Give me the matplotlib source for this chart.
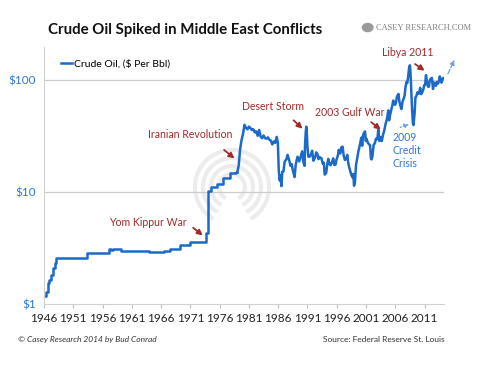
import numpy as np
import matplotlib.pyplot as plt
from matplotlib.patches import Arc
from matplotlib.lines import Line2D

# early, administered prices (stepped)
early_t = [1946.0, 1946.4, 1946.6, 1946.9, 1947.2, 1947.6, 1947.8, 1948.0, 1953.4,
           1957.1, 1957.5, 1957.8, 1959.1, 1964.0, 1966.5, 1967.5, 1969.2, 1970.9,
           1973.7, 1974.0, 1974.6, 1975.6, 1976.6, 1977.7, 1978.8, 1979.0]
early_p = [1.17, 1.27, 1.52, 1.62, 1.82, 2.07, 2.32, 2.57, 2.82,
           3.07, 3.00, 3.07, 2.97, 2.92, 2.97, 3.07, 3.35, 3.56,
           4.31, 10.11, 11.1, 11.8, 13.2, 14.7, 14.85, 14.85]

# market prices 1979 onward
late_t = [1979.0, 1979.25, 1979.5, 1979.75, 1980.0, 1980.25, 1980.5, 1980.75, 1981.0, 1981.25,
          1981.5, 1981.75, 1982.0, 1982.25, 1982.5, 1982.75, 1983.0, 1983.25, 1983.5, 1983.75,
          1984.0, 1984.25, 1984.5, 1984.75, 1985.0, 1985.25, 1985.5, 1985.75, 1985.95, 1986.1,
          1986.25, 1986.4, 1986.55, 1986.7, 1986.9, 1987.1, 1987.4, 1987.6, 1987.9, 1988.1,
          1988.3, 1988.5, 1988.8, 1989.0, 1989.3, 1989.6, 1989.9, 1990.1, 1990.3, 1990.5,
          1990.6, 1990.7, 1990.8, 1990.9, 1991.0, 1991.15, 1991.4, 1991.6, 1991.8, 1992.0,
          1992.3, 1992.5, 1992.7, 1992.9, 1993.1, 1993.4, 1993.6, 1993.8, 1993.95, 1994.2,
          1994.4, 1994.55, 1994.75, 1994.95, 1995.2, 1995.4, 1995.6, 1995.8, 1995.95, 1996.2,
          1996.35, 1996.6, 1996.8, 1997.0, 1997.2, 1997.4, 1997.6, 1997.8, 1997.95, 1998.1,
          1998.3, 1998.5, 1998.7, 1998.85, 1998.95, 1999.1, 1999.3, 1999.5, 1999.7, 1999.95,
          2000.2, 2000.35, 2000.5, 2000.7, 2000.85, 2000.95, 2001.1, 2001.3, 2001.5, 2001.7,
          2001.85, 2001.95, 2002.1, 2002.3, 2002.5, 2002.7, 2002.95, 2003.1, 2003.3, 2003.5,
          2003.7, 2003.9, 2004.1, 2004.35, 2004.6, 2004.8, 2004.95, 2005.1, 2005.3, 2005.5,
          2005.65, 2005.8, 2005.95, 2006.1, 2006.3, 2006.55, 2006.7, 2006.85, 2007.05, 2007.25,
          2007.45, 2007.6, 2007.75, 2007.9, 2008.05, 2008.2, 2008.35, 2008.5, 2008.6, 2008.75,
          2008.85, 2009.0, 2009.1, 2009.3, 2009.45, 2009.6, 2009.8, 2009.95, 2010.1, 2010.25,
          2010.4, 2010.6, 2010.8, 2010.95, 2011.1, 2011.25, 2011.4, 2011.6, 2011.75, 2011.9,
          2012.1, 2012.25, 2012.45, 2012.6, 2012.8, 2012.95, 2013.1, 2013.3, 2013.45, 2013.6,
          2013.75, 2013.9, 2014.0, 2014.2]
late_p = [14.85, 17, 24, 29, 33, 39.5, 37, 36, 38, 37,
          35.5, 36, 33.8, 34.5, 31.5, 35.5, 31, 30, 31.7, 30,
          29.7, 30.5, 29, 28.5, 26.4, 28, 27.3, 30.8, 27, 15.5,
          12.6, 14, 11.2, 15, 15.2, 18.5, 19.5, 21.3, 18.9, 17,
          17.6, 15.5, 13.5, 17.5, 20.5, 18.6, 21, 22.9, 18.4, 17,
          27, 33.5, 38, 32.3, 25.2, 20.5, 20.6, 21.5, 23.2, 18.9,
          20.2, 22.4, 21.7, 19.5, 20.3, 19.8, 17.8, 18.1, 14.2, 14.7,
          17.8, 19.6, 17.7, 17.2, 18.4, 19.8, 17.3, 17.5, 19.2, 21.1,
          23.6, 21.9, 24.9, 25.2, 20.8, 19.2, 19.6, 21.3, 18.3, 16.7,
          15.4, 14.1, 13.4, 14.4, 11.3, 12, 17.3, 19.9, 22.9, 26.1,
          30.3, 25.7, 31.8, 33.9, 34.4, 28.4, 29.6, 27.4, 26.5, 25.9,
          19.6, 19.4, 20.7, 26.2, 26.9, 29.7, 29.4, 35.8, 28.3, 30.7,
          28.3, 32.1, 34.7, 40.3, 44.9, 53.1, 43.3, 48, 53, 59,
          65, 62.4, 59.4, 61.6, 70.8, 74.4, 63.8, 58.9, 54.5, 63.9,
          67.5, 72.4, 85.8, 94.8, 92.9, 105.5, 125.4, 133.9, 116.7, 76.7,
          57.4, 41, 39.2, 49.7, 69.6, 71, 77, 74.5, 76.4, 84.3,
          74, 76.6, 81.9, 89, 89.6, 109.5, 96.3, 86.3, 86.4, 98.6,
          102.2, 103.3, 82.3, 94.1, 89.5, 87.9, 95.3, 92, 95.8, 106.6,
          100.5, 93.9, 97.6, 102.9]

year_ticks = [1946, 1951, 1956, 1961, 1966, 1971, 1976, 1981, 1986, 1991, 1996, 2001, 2006, 2011]
price_ticks = [1, 10, 100]
price_labels = ['$1', '$10', '$100']

blue = '#1b6ac9'
red = '#a02b2b'
grey = '#bfbfbf'
font = ['Lato', 'DejaVu Sans']
plt.rcParams['font.family'] = font

fig = plt.figure(figsize=(4.8, 3.67), dpi=100)
ax = fig.add_axes([0.0917, 0.172, 0.833, 0.70])
ax.patch.set_visible(False)

ax.plot(early_t, early_p, color=blue, lw=1.8, drawstyle='steps-post')
ax.plot(late_t, late_p, color=blue, lw=1.8)

ax.set_yscale('log')
ax.set_ylim(1, 195)
ax.set_xlim(1946, 2014.3)
ax.set_yticks(price_ticks)
ax.set_yticklabels(price_labels, color='#2e75d6', fontsize=8.5)
ax.minorticks_off()
ax.set_xticks(year_ticks)
ax.tick_params(axis='x', labelsize=8.5, colors=grey, labelcolor='#222222', length=3, direction='out')
ax.tick_params(axis='y', length=0, pad=6)
for y in [10, 100]:
    ax.axhline(y, color='#cccccc', lw=0.9, zorder=0)
for s in ['top', 'right']:
    ax.spines[s].set_visible(False)
ax.spines['left'].set_color('#d0d0d0')
ax.spines['bottom'].set_color('#d0d0d0')

h = Line2D([], [], color=blue, lw=1.8)
ax.legend([h], ['Crude Oil, ($ Per Bbl)'], loc='upper left', frameon=False, fontsize=7.5,
          handlelength=1.0, handletextpad=0.2, bbox_to_anchor=(0.02, 0.99))

# watermark
for r in [0.37, 0.29, 0.21, 0.13]:
    fig.add_artist(Arc((2.32, 1.80), 2 * r, 2 * r, theta1=-60, theta2=240,
                       transform=fig.dpi_scale_trans, color='#ececec', lw=3.0, zorder=-1))

def note(txt, xy, xytext, tip):
    ax.text(xytext[0], xytext[1], txt, color=red, fontsize=7.6, ha='center', va='center')
    ax.annotate('', xy=xy, xytext=tip,
                arrowprops=dict(arrowstyle='-|>', color=red, lw=1.3, mutation_scale=8))

note('Yom Kippur War', (1973.5, 3.94), (1963.7, 5.36), (1971.1, 4.94))
note('Iranian Revolution', (1978.9, 19.1), (1970.9, 32.5), (1976.4, 24.4))
note('Desert Storm', (1990.5, 35), (1985.1, 57.7), (1988.3, 45))
note('2003 Gulf War', (2003.9, 34.6), (1998.2, 51), (2001.5, 43.2))
note('Libya 2011', (2011.4, 116), (2008.1, 174), (2009.0, 142))

ax.text(2005.6, 34, '2009\nCredit\nCrisis', color='#2e75d6', fontsize=7.6, ha='left', va='top',
        linespacing=1.2)
ax.annotate('', xy=(2008.8, 40.7), xytext=(2006.4, 36.7),
            arrowprops=dict(arrowstyle='-|>', color='#6fa0e0', lw=0.9, ls=':', mutation_scale=7))
ax.annotate('', xy=(2016.3, 157), xytext=(2014.8, 107), annotation_clip=False,
            arrowprops=dict(arrowstyle='-|>', color='#6fa0e0', lw=0.9, ls='--', mutation_scale=7))

fig.text(0.10, 0.918, 'Crude Oil Spiked in Middle East Conflicts', fontsize=10.8, fontweight='bold',
         color='#111111', va='center')
fig.text(0.783, 0.925, 'CASEY RESEARCH.COM', fontsize=6.0, family='Liberation Serif',
         color='#7f7f7f', va='center')
fig.add_artist(plt.Circle((0.766, 0.925), 0.011, transform=fig.transFigure, color='#9a9a9a'))
fig.text(0.037, 0.074, '\u00a9 Casey Research 2014 by Bud Conrad', fontsize=6, style='italic',
         color='#333333', va='center')
fig.text(0.927, 0.074, 'Source: Federal Reserve St. Louis', fontsize=6, color='#333333',
         va='center', ha='right')

fig.savefig('out.png', dpi=100)
